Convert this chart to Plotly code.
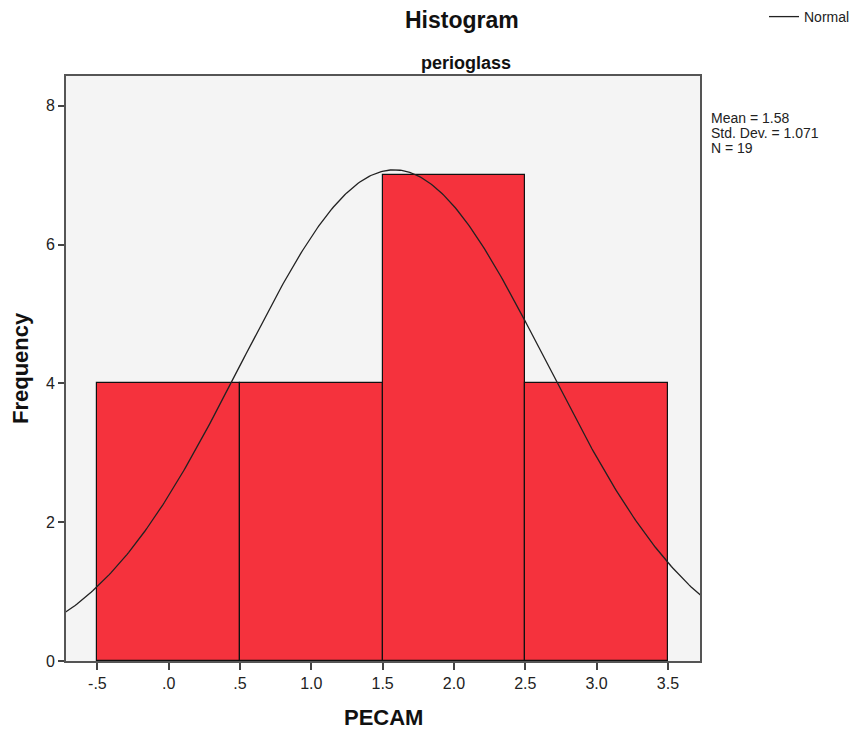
import numpy as np
import plotly.graph_objects as go

# Histogram of PECAM for the perioglass group
bin_left = [-0.5, 0.5, 1.5, 2.5]
bin_width = 1.0
counts = [4, 4, 7, 4]

# Summary statistics shown beside the plot
mean_val = 1.58
std_val = 1.071
n_val = 19

x_tickvals = [-0.5, 0.0, 0.5, 1.0, 1.5, 2.0, 2.5, 3.0, 3.5]
x_ticktext = ["-.5", ".0", ".5", "1.0", "1.5", "2.0", "2.5", "3.0", "3.5"]
y_tickvals = [0, 2, 4, 6, 8]

x_range = [-0.72, 3.725]
y_range = [0, 8.43]

FONT = "Liberation Sans, Arial, sans-serif"

# plot area in pixels
L, R, T, B = 66, 700, 76, 661
W, H = 854, 731
PW, PH = R - L, B - T


def px(x):
    return (x - L) / PW


def py(y):
    return (B - y) / PH


fig = go.Figure()

fig.add_trace(go.Bar(
    x=bin_left,
    y=counts,
    width=bin_width,
    offset=0,
    marker=dict(color="#F5323D", line=dict(color="#111111", width=1.2)),
    showlegend=False,
    hoverinfo="skip",
))

# Fitted normal curve scaled to counts (N * bin width * pdf)
xs = np.linspace(x_range[0] - 0.05, x_range[1] + 0.05, 400)
ys = n_val * bin_width / (std_val * np.sqrt(2 * np.pi)) * np.exp(-0.5 * ((xs - mean_val) / std_val) ** 2)
fig.add_trace(go.Scatter(
    x=xs, y=ys, mode="lines",
    line=dict(color="#222222", width=1.3),
    name="Normal",
    showlegend=True,
))

stats_lines = [f"Mean = {mean_val:.2f}", f"Std. Dev. = {std_val:.3f}", f"N = {n_val}"]
stats_y = [118, 133, 148]

annotations = [
    dict(text="<b>Histogram</b>", xref="paper", yref="paper",
         x=px(462), y=py(20), xanchor="center", yanchor="middle",
         showarrow=False, font=dict(size=23, family=FONT, color="#111111")),
    dict(text="<b>perioglass</b>", xref="paper", yref="paper",
         x=px(466), y=py(63), xanchor="center", yanchor="middle",
         showarrow=False, font=dict(size=18, family=FONT, color="#111111")),
    dict(text="<b>PECAM</b>", xref="paper", yref="paper",
         x=px(383), y=py(717), xanchor="center", yanchor="middle",
         showarrow=False, font=dict(size=22, family=FONT, color="#111111")),
    dict(text="<b>Frequency</b>", xref="paper", yref="paper", textangle=-90,
         x=px(20), y=py(368), xanchor="center", yanchor="middle",
         showarrow=False, font=dict(size=22, family=FONT, color="#111111")),
]
for s, yy in zip(stats_lines, stats_y):
    annotations.append(dict(
        text=s, xref="paper", yref="paper", x=px(709), y=py(yy),
        xanchor="left", yanchor="middle", align="left", showarrow=False,
        font=dict(size=14, family=FONT, color="#222222")))

fig.update_layout(
    width=W, height=H,
    margin=dict(l=L, r=W - R, t=T, b=H - B, autoexpand=False),
    paper_bgcolor="white",
    plot_bgcolor="#F4F4F4",
    font=dict(family=FONT, color="#222222"),
    bargap=0,
    showlegend=True,
    legend=dict(
        x=px(764), y=py(1), xanchor="left", yanchor="top",
        font=dict(size=14, family=FONT, color="#222222"),
        bgcolor="rgba(0,0,0,0)",
        itemwidth=30,
    ),
    annotations=annotations,
)

fig.update_xaxes(
    range=x_range,
    tickvals=x_tickvals, ticktext=x_ticktext,
    ticks="outside", ticklen=7, tickwidth=1.5, tickcolor="#444444",
    showline=True, linecolor="#555555", linewidth=2, mirror=True,
    showgrid=False, zeroline=False,
    tickfont=dict(size=16, family=FONT, color="#222222"),
)
fig.update_yaxes(
    range=y_range,
    tickvals=y_tickvals,
    ticks="outside", ticklen=6, tickwidth=1.5, tickcolor="#444444",
    showline=True, linecolor="#555555", linewidth=2, mirror=True,
    showgrid=False, zeroline=False,
    tickfont=dict(size=16, family=FONT, color="#222222"),
)

fig.write_html("out.html")
